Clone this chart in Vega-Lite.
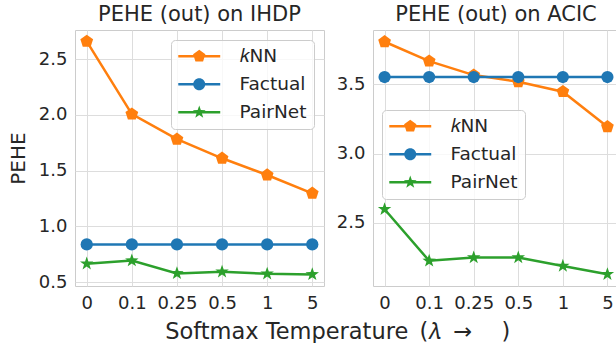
{
  "$schema": "https://vega.github.io/schema/vega-lite/v6.json",
  "padding": {"left": 7, "top": 3, "right": 0, "bottom": 0},
  "datasets": {
    "ihdp": [
      {"lam": "0", "method": "kNN", "pehe": 2.658},
      {"lam": "0.1", "method": "kNN", "pehe": 2.006},
      {"lam": "0.25", "method": "kNN", "pehe": 1.781},
      {"lam": "0.5", "method": "kNN", "pehe": 1.61},
      {"lam": "1", "method": "kNN", "pehe": 1.46},
      {"lam": "5", "method": "kNN", "pehe": 1.296},
      {"lam": "0", "method": "Factual", "pehe": 0.838},
      {"lam": "0.1", "method": "Factual", "pehe": 0.838},
      {"lam": "0.25", "method": "Factual", "pehe": 0.838},
      {"lam": "0.5", "method": "Factual", "pehe": 0.838},
      {"lam": "1", "method": "Factual", "pehe": 0.838},
      {"lam": "5", "method": "Factual", "pehe": 0.838},
      {"lam": "0", "method": "PairNet", "pehe": 0.665},
      {"lam": "0.1", "method": "PairNet", "pehe": 0.693},
      {"lam": "0.25", "method": "PairNet", "pehe": 0.578},
      {"lam": "0.5", "method": "PairNet", "pehe": 0.593},
      {"lam": "1", "method": "PairNet", "pehe": 0.575},
      {"lam": "5", "method": "PairNet", "pehe": 0.569}
    ],
    "acic": [
      {"lam": "0", "method": "kNN", "pehe": 3.808},
      {"lam": "0.1", "method": "kNN", "pehe": 3.668},
      {"lam": "0.25", "method": "kNN", "pehe": 3.567},
      {"lam": "0.5", "method": "kNN", "pehe": 3.519},
      {"lam": "1", "method": "kNN", "pehe": 3.447},
      {"lam": "5", "method": "kNN", "pehe": 3.193},
      {"lam": "0", "method": "Factual", "pehe": 3.553},
      {"lam": "0.1", "method": "Factual", "pehe": 3.553},
      {"lam": "0.25", "method": "Factual", "pehe": 3.553},
      {"lam": "0.5", "method": "Factual", "pehe": 3.553},
      {"lam": "1", "method": "Factual", "pehe": 3.553},
      {"lam": "5", "method": "Factual", "pehe": 3.553},
      {"lam": "0", "method": "PairNet", "pehe": 2.597},
      {"lam": "0.1", "method": "PairNet", "pehe": 2.224},
      {"lam": "0.25", "method": "PairNet", "pehe": 2.248},
      {"lam": "0.5", "method": "PairNet", "pehe": 2.248},
      {"lam": "1", "method": "PairNet", "pehe": 2.187},
      {"lam": "5", "method": "PairNet", "pehe": 2.127}
    ]
  },
  "config": {
    "font": "DejaVu Sans",
    "view": {"stroke": "#cccccc", "strokeWidth": 1},
    "axis": {
      "domain": false,
      "ticks": false,
      "grid": true,
      "gridColor": "#dddddd",
      "gridWidth": 1,
      "labelFont": "DejaVu Sans",
      "labelFontSize": 18,
      "labelColor": "#262626",
      "titleFont": "DejaVu Sans",
      "titleFontSize": 20,
      "titleFontWeight": "normal",
      "titleColor": "#262626",
      "titlePadding": 10,
      "labelPadding": 8
    },
    "title": {"font": "DejaVu Sans", "fontSize": 21, "fontWeight": "normal", "color": "#262626", "offset": 5},
    "legend": {
      "title": null,
      "labelFont": "DejaVu Sans",
      "labelFontSize": 18.5,
      "labelColor": "#262626",
      "symbolSize": 324,
      "symbolOffset": 12,
      "labelOffset": 31,
      "rowPadding": 9,
      "padding": 7,
      "fillColor": "rgba(255,255,255,0.8)",
      "strokeColor": "#cccccc",
      "cornerRadius": 4
    }
  },
  "title": {
    "text": "Softmax Temperature\u2002(𝜆\u2009 → \u2003)",
    "orient": "bottom",
    "anchor": "middle",
    "fontSize": 22.5,
    "offset": 8,
    "dx": 24
  },
  "spacing": 49,
  "bounds": "flush",
  "resolve": {
    "scale": {"x": "independent", "y": "independent", "color": "independent"},
    "legend": {"color": "independent"}
  },
  "hconcat": [
    {
      "width": 249,
      "height": 256,
      "title": "PEHE (out) on IHDP",
      "data": {"name": "ihdp"},
      "encoding": {
        "x": {"field": "lam", "type": "ordinal", "sort": ["0", "0.1", "0.25", "0.5", "1", "5"], "scale": {"type": "point", "padding": 0.26}, "axis": {"title": null, "labelAngle": 0}},
        "y": {"field": "pehe", "type": "quantitative", "scale": {"domain": [0.465, 2.76], "nice": false, "zero": false}, "axis": {"title": "PEHE", "values": [0.5, 1.0, 1.5, 2.0, 2.5], "format": ".1f"}},
        "color": {
          "field": "method", "type": "nominal",
          "scale": {"domain": ["kNN", "Factual", "PairNet"], "range": ["#ff7f0e", "#1f77b4", "#2ca02c"]},
          "legend": {
            "orient": "top-right",
            "offset": 10,
            "labelExpr": "datum.label == 'kNN' ? '𝑘NN' : datum.label",
            "encoding": {
              "symbols": {
                "shape": {"value": {"expr": "datum.value == 'kNN' ? 'M-2.33,-0.14L2.33,-0.14L2.33,0.14L-2.33,0.14Z M0,-0.72L0.685,-0.222L0.423,0.582L-0.423,0.582L-0.685,-0.222Z' : datum.value == 'Factual' ? 'M-2.33,-0.14L2.33,-0.14L2.33,0.14L-2.33,0.14Z M0.67,0A0.67,0.67 0 1,1 -0.67,0A0.67,0.67 0 1,1 0.67,0Z' : 'M-2.33,-0.14L2.33,-0.14L2.33,0.14L-2.33,0.14Z M0,-0.75L0.176,-0.243L0.713,-0.232L0.285,0.093L0.441,0.607L0,0.3L-0.441,0.607L-0.285,0.093L-0.713,-0.232L-0.176,-0.243Z'"}},
                "size": {"value": 324},
                "fill": {"value": {"expr": "datum.value == 'kNN' ? '#ff7f0e' : datum.value == 'Factual' ? '#1f77b4' : '#2ca02c'"}},
                "strokeWidth": {"value": 0},
                "opacity": {"value": 1},
                "fillOpacity": {"value": 1}
              }
            }
          }
        }
      },
      "layer": [
        {"mark": {"type": "line", "strokeWidth": 2.5}, "encoding": {}},
        {
          "transform": [{"filter": "datum.method == 'kNN'"}],
          "mark": {"type": "point", "filled": true, "opacity": 1, "size": 180, "shape": "M0,-1L0.951,-0.309L0.588,0.809L-0.588,0.809L-0.951,-0.309Z"},
          "encoding": {}
        },
        {
          "transform": [{"filter": "datum.method == 'Factual'"}],
          "mark": {"type": "point", "filled": true, "opacity": 1, "size": 150, "shape": "circle"},
          "encoding": {}
        },
        {
          "transform": [{"filter": "datum.method == 'PairNet'"}],
          "mark": {"type": "point", "filled": true, "opacity": 1, "size": 200, "shape": "M0,-1L0.235,-0.324L0.951,-0.309L0.38,0.124L0.588,0.809L0,0.4L-0.588,0.809L-0.38,0.124L-0.951,-0.309L-0.235,-0.324Z"},
          "encoding": {}
        }
      ]
    },
    {
      "width": 246,
      "height": 256,
      "title": "PEHE (out) on ACIC",
      "data": {"name": "acic"},
      "encoding": {
        "x": {"field": "lam", "type": "ordinal", "sort": ["0", "0.1", "0.25", "0.5", "1", "5"], "scale": {"type": "point", "padding": 0.26}, "axis": {"title": null, "labelAngle": 0}},
        "y": {"field": "pehe", "type": "quantitative", "scale": {"domain": [2.042, 3.893], "nice": false, "zero": false}, "axis": {"title": null, "values": [2.5, 3.0, 3.5], "format": ".1f"}},
        "color": {
          "field": "method", "type": "nominal",
          "scale": {"domain": ["kNN", "Factual", "PairNet"], "range": ["#ff7f0e", "#1f77b4", "#2ca02c"]},
          "legend": {
            "orient": "none",
            "legendX": 9,
            "legendY": 80,
            "labelExpr": "datum.label == 'kNN' ? '𝑘NN' : datum.label",
            "encoding": {
              "symbols": {
                "shape": {"value": {"expr": "datum.value == 'kNN' ? 'M-2.33,-0.14L2.33,-0.14L2.33,0.14L-2.33,0.14Z M0,-0.72L0.685,-0.222L0.423,0.582L-0.423,0.582L-0.685,-0.222Z' : datum.value == 'Factual' ? 'M-2.33,-0.14L2.33,-0.14L2.33,0.14L-2.33,0.14Z M0.67,0A0.67,0.67 0 1,1 -0.67,0A0.67,0.67 0 1,1 0.67,0Z' : 'M-2.33,-0.14L2.33,-0.14L2.33,0.14L-2.33,0.14Z M0,-0.75L0.176,-0.243L0.713,-0.232L0.285,0.093L0.441,0.607L0,0.3L-0.441,0.607L-0.285,0.093L-0.713,-0.232L-0.176,-0.243Z'"}},
                "size": {"value": 324},
                "fill": {"value": {"expr": "datum.value == 'kNN' ? '#ff7f0e' : datum.value == 'Factual' ? '#1f77b4' : '#2ca02c'"}},
                "strokeWidth": {"value": 0},
                "opacity": {"value": 1},
                "fillOpacity": {"value": 1}
              }
            }
          }
        }
      },
      "layer": [
        {"mark": {"type": "line", "strokeWidth": 2.5}, "encoding": {}},
        {
          "transform": [{"filter": "datum.method == 'kNN'"}],
          "mark": {"type": "point", "filled": true, "opacity": 1, "size": 180, "shape": "M0,-1L0.951,-0.309L0.588,0.809L-0.588,0.809L-0.951,-0.309Z"},
          "encoding": {}
        },
        {
          "transform": [{"filter": "datum.method == 'Factual'"}],
          "mark": {"type": "point", "filled": true, "opacity": 1, "size": 150, "shape": "circle"},
          "encoding": {}
        },
        {
          "transform": [{"filter": "datum.method == 'PairNet'"}],
          "mark": {"type": "point", "filled": true, "opacity": 1, "size": 200, "shape": "M0,-1L0.235,-0.324L0.951,-0.309L0.38,0.124L0.588,0.809L0,0.4L-0.588,0.809L-0.38,0.124L-0.951,-0.309L-0.235,-0.324Z"},
          "encoding": {}
        }
      ]
    }
  ]
}
